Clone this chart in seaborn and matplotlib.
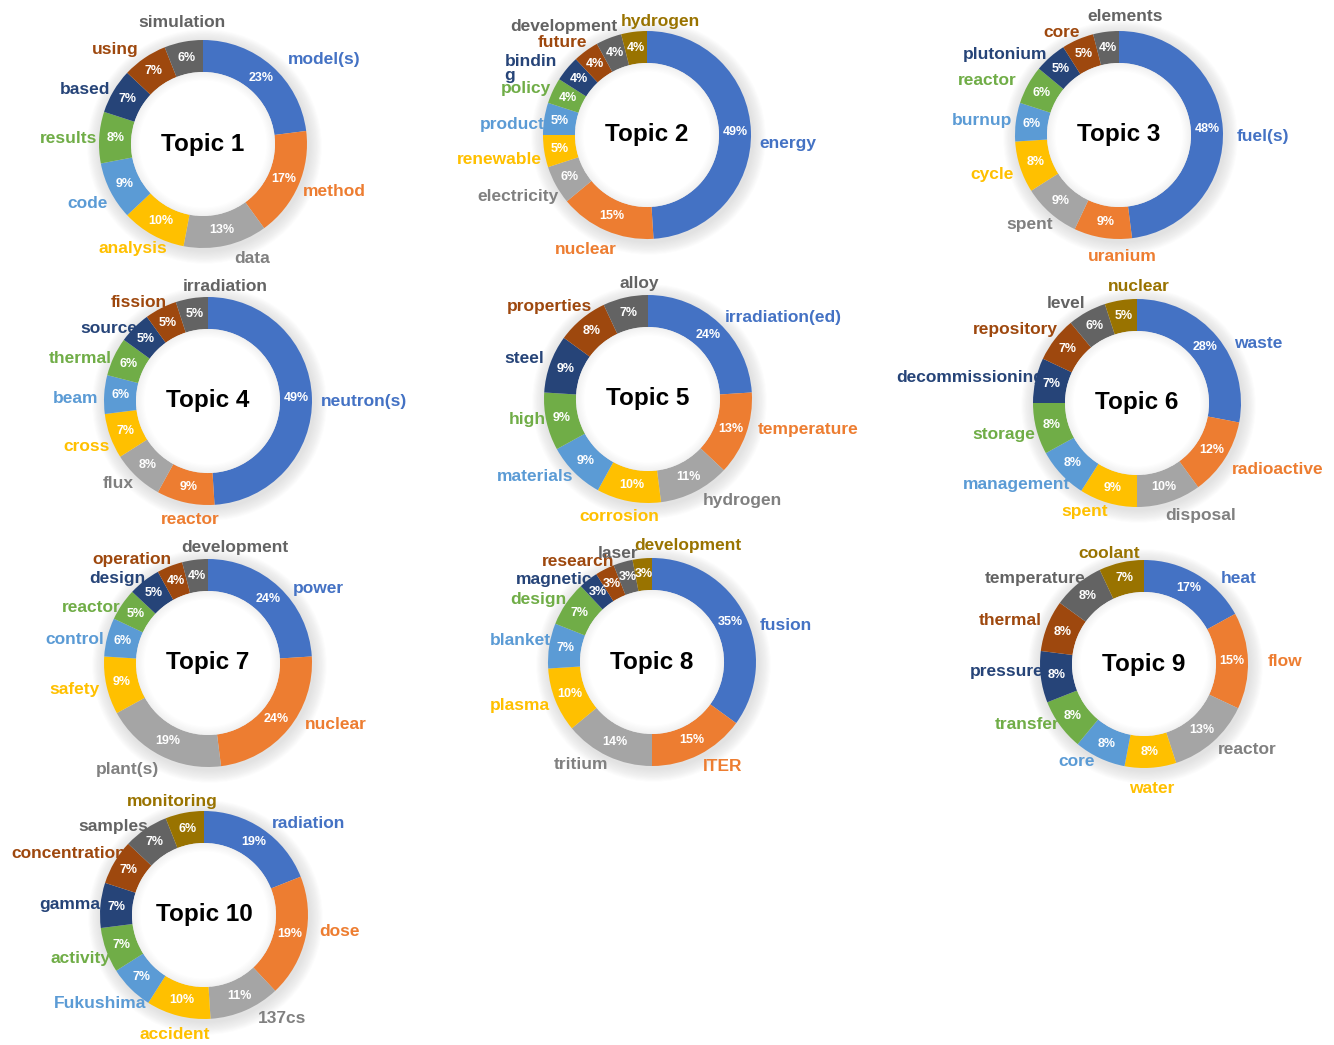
import numpy as np
import matplotlib
matplotlib.use("Agg")
import matplotlib.pyplot as plt
from matplotlib.patches import Circle, Wedge
import seaborn as sns

# Term shares (%) for each topic, listed clockwise from 12 o'clock
topic1_terms = ["model(s)", "method", "data", "analysis", "code", "results", "based", "using", "simulation"]
topic1_pct = [23, 17, 13, 10, 9, 8, 7, 7, 6]

topic2_terms = ["energy", "nuclear", "electricity", "renewable", "product", "policy", "bindin\ng",
                "future", "development", "hydrogen"]
topic2_pct = [49, 15, 6, 5, 5, 4, 4, 4, 4, 4]

topic3_terms = ["fuel(s)", "uranium", "spent", "cycle", "burnup", "reactor", "plutonium", "core", "elements"]
topic3_pct = [48, 9, 9, 8, 6, 6, 5, 5, 4]

topic4_terms = ["neutron(s)", "reactor", "flux", "cross", "beam", "thermal", "source", "fission", "irradiation"]
topic4_pct = [49, 9, 8, 7, 6, 6, 5, 5, 5]

topic5_terms = ["irradiation(ed)", "temperature", "hydrogen", "corrosion", "materials", "high", "steel",
                "properties", "alloy"]
topic5_pct = [24, 13, 11, 10, 9, 9, 9, 8, 7]

topic6_terms = ["waste", "radioactive", "disposal", "spent", "management", "storage", "decommissioning",
                "repository", "level", "nuclear"]
topic6_pct = [28, 12, 10, 9, 8, 8, 7, 7, 6, 5]

topic7_terms = ["power", "nuclear", "plant(s)", "safety", "control", "reactor", "design", "operation",
                "development"]
topic7_pct = [24, 24, 19, 9, 6, 5, 5, 4, 4]

topic8_terms = ["fusion", "ITER", "tritium", "plasma", "blanket", "design", "magnetic", "research", "laser",
                "development"]
topic8_pct = [35, 15, 14, 10, 7, 7, 3, 3, 3, 3]

topic9_terms = ["heat", "flow", "reactor", "water", "core", "transfer", "pressure", "thermal", "temperature",
                "coolant"]
topic9_pct = [17, 15, 13, 8, 8, 8, 8, 8, 8, 7]

topic10_terms = ["radiation", "dose", "137cs", "accident", "Fukushima", "activity", "gamma", "concentrations",
                 "samples", "monitoring"]
topic10_pct = [19, 19, 11, 10, 7, 7, 7, 7, 7, 6]

topics = [
    (topic1_terms, topic1_pct), (topic2_terms, topic2_pct), (topic3_terms, topic3_pct),
    (topic4_terms, topic4_pct), (topic5_terms, topic5_pct), (topic6_terms, topic6_pct),
    (topic7_terms, topic7_pct), (topic8_terms, topic8_pct), (topic9_terms, topic9_pct),
    (topic10_terms, topic10_pct),
]

sns.set_theme(style="white")
plt.rcParams["font.family"] = ["Liberation Sans", "DejaVu Sans"]

palette = sns.color_palette(["#4472C4", "#ED7D31", "#A5A5A5", "#FFC000", "#5B9BD5",
                             "#70AD47", "#264478", "#9E480E", "#636363", "#997300"])
# label text uses the slice colour, with a darker grey for the light-grey slice
label_palette = list(palette)
label_palette[2] = sns.color_palette(["#808080"])[0]

W, H = 1334, 1045
fig = plt.figure(figsize=(W / 100, H / 100), dpi=100)
ax = fig.add_axes([0, 0, 1, 1])
renderer = fig.canvas.get_renderer()

# donut centres in pixel units (x right, y down)
centers = [(203, 144), (647, 135), (1119, 135),
           (208, 401), (648, 399), (1137, 403),
           (208, 663), (652, 662), (1144, 664),
           (204, 915)]
R = 104          # outer radius (px)
RING = 32        # ring thickness (px)
R_LAB = 112      # anchor radius of term labels

# hand placement tweaks for term labels (dx right, dy down, in px)
label_nudge = {
    (0, "simulation"): (8, -4), (0, "using"): (-12, 4), (0, "based"): (0, 6), (0, "results"): (6, 2),
    (0, "code"): (2, 5), (0, "data"): (21, -2), (0, "model(s)"): (23, 5),
    (1, "development"): (-22, 3), (1, "hydrogen"): (32, 5), (1, "future"): (-4, 4),
    (1, "bindin\ng"): (-10, 14), (1, "policy"): (3, 4), (1, "product"): (8, 8),
    (1, "renewable"): (5, 6), (1, "electricity"): (5, 4), (1, "nuclear"): (-4, 5), (1, "energy"): (0, 12),
    (2, "elements"): (25, 0), (2, "core"): (-6, 7), (2, "plutonium"): (-12, 9), (2, "reactor"): (-8, 3),
    (2, "burnup"): (4, 0), (2, "cycle"): (0, 3), (2, "uranium"): (26, 3), (2, "fuel(s)"): (6, 9),
    (3, "irradiation"): (41, 4), (3, "fission"): (-6, 8), (3, "source"): (0, 12), (3, "thermal"): (2, 8),
    (3, "beam"): (2, 5), (3, "cross"): (6, 5), (3, "flux"): (-2, -5), (3, "reactor"): (13, 2),
    (3, "neutron(s)"): (1, 4),
    (4, "alloy"): (20, 1), (4, "high"): (7, -6), (4, "materials"): (-7, -7), (4, "hydrogen"): (26, -5),
    (4, "temperature"): (7, -10), (4, "irradiation(ed)"): (19, 6),
    (5, "nuclear"): (24, 2), (5, "level"): (-8, 5), (5, "decommissioning"): (15, 1), (5, "storage"): (6, 2),
    (5, "spent"): (-15, -6), (5, "disposal"): (18, -1), (5, "radioactive"): (7, 2), (5, "waste"): (16, 17),
    (6, "development"): (48, 3), (6, "operation"): (-20, 8), (6, "design"): (-5, 10), (6, "reactor"): (0, 12),
    (6, "control"): (4, 6), (6, "plant(s)"): (-15, 0), (6, "nuclear"): (18, -15), (6, "power"): (16, 13),
    (7, "development"): (51, 2), (7, "laser"): (3, 6), (7, "research"): (-7, 6), (7, "magnetic"): (-6, 12),
    (7, "design"): (2, 5), (7, "blanket"): (9, -3), (7, "tritium"): (-12, -6), (7, "ITER"): (11, -2),
    (7, "fusion"): (11, 18),
    (8, "coolant"): (-4, 6), (8, "temperature"): (-5, 7), (8, "pressure"): (10, -7), (8, "transfer"): (0, -10),
    (8, "core"): (-12, -11), (8, "water"): (-1, 5), (8, "reactor"): (10, -4), (8, "flow"): (12, 1),
    (8, "heat"): (29, 17),
    (9, "samples"): (-8, 10), (9, "concentrations"): (20, -1), (9, "gamma"): (8, 1), (9, "activity"): (10, 3),
    (9, "Fukushima"): (8, 4), (9, "accident"): (7, 4), (9, "137cs"): (24, -6), (9, "dose"): (6, -10),
    (9, "radiation"): (21, 7), (9, "monitoring"): (-2, 4),
}

for i, ((terms, pct), (px, py)) in enumerate(zip(topics, centers)):
    cx, cy = px, H - py

    # soft drop shadow around the ring
    for k in range(12, 0, -1):
        ax.add_patch(Circle((cx + 1.5, cy - 2.5), R + k * 1.1, facecolor="0.45",
                            alpha=0.016, lw=0, zorder=0))

    wedges, _, pct_texts = ax.pie(
        pct, colors=palette[:len(pct)], startangle=90, counterclock=False,
        center=(cx, cy), radius=R,
        wedgeprops=dict(width=RING, linewidth=0),
        autopct=lambda p: f"{p:.0f}%", pctdistance=(R - RING / 2) / R,
        textprops=dict(color="white", fontsize=9, fontweight="bold"),
    )
    for t in pct_texts:
        t.set_zorder(5)

    # white hole with a faint inner shadow along its edge
    ax.add_patch(Circle((cx, cy), R - RING, facecolor="white", lw=0, zorder=2))
    for k in range(1, 8):
        ax.add_patch(Wedge((cx, cy), R - RING, 0, 360, width=k * 1.2, facecolor="0.5",
                           alpha=0.016, lw=0, zorder=3))

    ax.text(cx, cy, f"Topic {i + 1}", ha="center", va="center", fontsize=17.5,
            fontweight="bold", color="black", zorder=6)

    # term labels just outside each slice, pushed out by half their extent
    for w, term, col in zip(wedges, terms, label_palette):
        ang = np.deg2rad((w.theta1 + w.theta2) / 2)
        ca, sa = np.cos(ang), np.sin(ang)
        ax0, ay0 = cx + R_LAB * ca, cy + R_LAB * sa
        t = ax.text(ax0, ay0, term, ha="center", va="center", color=col, fontsize=12.5,
                    fontweight="bold", multialignment="left", linespacing=0.95, zorder=6)
        bb = t.get_window_extent(renderer)
        dx, dy = label_nudge.get((i, term), (0, 0))
        t.set_position((ax0 + bb.width / 2 * ca + dx, ay0 + bb.height / 2 * sa - dy))

ax.set_aspect("auto")
ax.set_xlim(0, W)
ax.set_ylim(0, H)
ax.axis("off")

fig.savefig("out.png", dpi=100, facecolor="white")
